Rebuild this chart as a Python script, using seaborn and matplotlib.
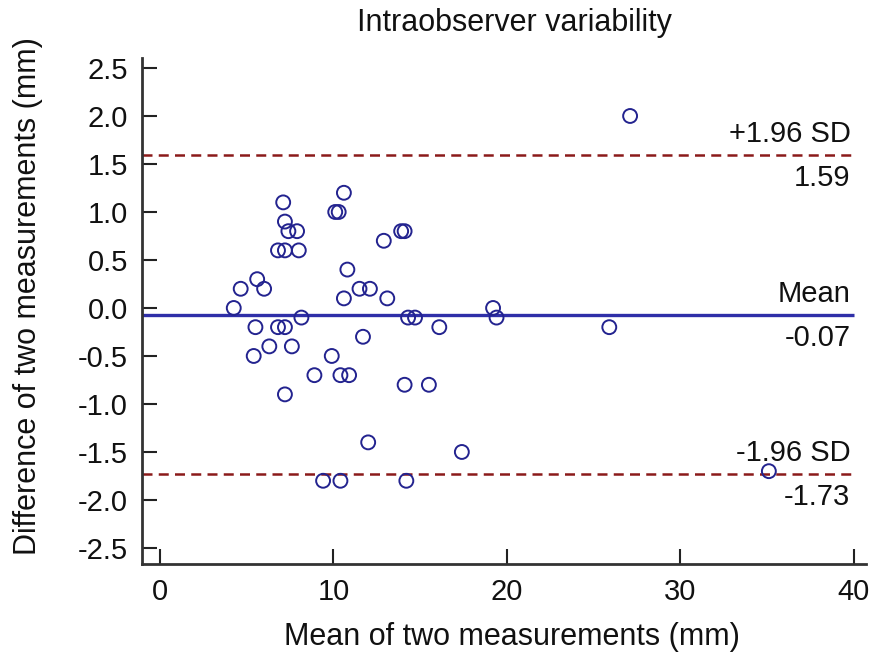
import numpy as np
import pandas as pd
import matplotlib
matplotlib.use("Agg")
import matplotlib.pyplot as plt
import seaborn as sns

# --- data (Bland-Altman, intraobserver) ---
mean_mm = [27.1, 4.25, 4.65, 5.6, 6.0, 5.5, 5.4, 6.3, 6.8, 7.2,
           7.6, 7.2, 8.15, 7.1, 7.2, 7.4, 7.9, 6.8, 7.2, 8.0,
           10.1, 10.3, 10.6, 10.6, 10.8, 11.5, 12.1, 11.7, 9.9, 8.9,
           10.4, 10.9, 12.0, 9.4, 10.4, 12.9, 13.1, 13.9, 14.1, 14.3,
           14.7, 14.1, 15.5, 16.1, 14.2, 17.4, 19.2, 19.4, 25.9, 35.1]
diff_mm = [2.0, 0.0, 0.2, 0.3, 0.2, -0.2, -0.5, -0.4, -0.2, -0.2,
           -0.4, -0.9, -0.1, 1.1, 0.9, 0.8, 0.8, 0.6, 0.6, 0.6,
           1.0, 1.0, 1.2, 0.1, 0.4, 0.2, 0.2, -0.3, -0.5, -0.7,
           -0.7, -0.7, -1.4, -1.8, -1.8, 0.7, 0.1, 0.8, 0.8, -0.1,
           -0.1, -0.8, -0.8, -0.2, -1.8, -1.5, 0.0, -0.1, -0.2, -1.7]

mean_diff = -0.07
upper_loa = 1.59
lower_loa = -1.73

x_ticks = [0, 10, 20, 30, 40]
y_ticks = [2.5, 2.0, 1.5, 1.0, 0.5, 0.0, -0.5, -1.0, -1.5, -2.0, -2.5]

df = pd.DataFrame({"mean": mean_mm, "diff": diff_mm})

sns.set_theme(style="white")
plt.rcParams['font.family'] = ['Liberation Sans', 'DejaVu Sans']

NAVY = "#23238f"
BLUE = "#2f2fa8"
DRED = "#8b1a1a"

fig = plt.figure(figsize=(8.72, 6.62), dpi=100)
ax = fig.add_axes([142 / 872, 1 - 564 / 662, 724 / 872, 506 / 662])

sns.scatterplot(data=df, x="mean", y="diff", ax=ax, marker="o", s=100,
                color=NAVY, facecolors="none", edgecolor=NAVY,
                linewidth=1.4, zorder=3)

x0, x1 = -1.04, 40.7
ax.set_xlim(x0, x1)
ax.set_ylim(-2.667, 2.604)

# mean and limits of agreement
ax.hlines(mean_diff, x0, 40, color=BLUE, lw=2.4, zorder=2)
ax.hlines([upper_loa, lower_loa], x0, 40, color=DRED, lw=1.8,
          linestyles=(0, (4, 2.5)), zorder=2)

for val, name in [(upper_loa, "+1.96 SD"), (mean_diff, "Mean"), (lower_loa, "-1.96 SD")]:
    ax.text(39.8, val + 0.22, name, ha="right", va="center", fontsize=21, color="#111111")
    ax.text(39.8, val - 0.24, f"{val:.2f}", ha="right", va="center", fontsize=21, color="#111111")

ax.set_xticks(x_ticks)
ax.set_yticks(y_ticks)
ax.set_yticklabels([f"{v:.1f}" for v in y_ticks])
ax.tick_params(direction="in", length=11, width=1.5, labelsize=21,
               colors="#222222", labelcolor="#111111", pad=10,
               bottom=True, left=True)

for side in ["top", "right"]:
    ax.spines[side].set_visible(False)
for side in ["left", "bottom"]:
    ax.spines[side].set_linewidth(2)
    ax.spines[side].set_color("#333333")

ax.set_xlabel("Mean of two measurements (mm)", fontsize=22, color="#111111")
ax.set_ylabel("Difference of two measurements (mm)", fontsize=22, color="#111111")
ax.xaxis.set_label_coords(0.511, -0.115)
ax.yaxis.set_label_coords(-0.137, 0.53)

ax.text(0.515, 1.069, "Intraobserver variability", transform=ax.transAxes,
        ha="center", va="center", fontsize=22, color="#111111")

fig.savefig("out.png", dpi=100)
